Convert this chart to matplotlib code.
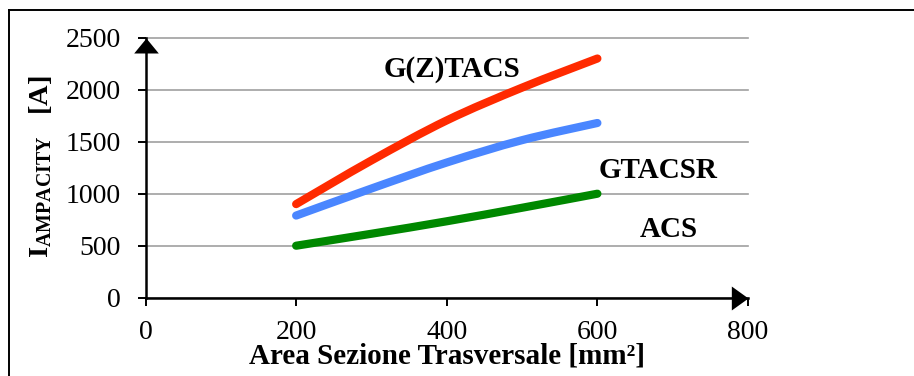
import matplotlib
matplotlib.use("Agg")
import matplotlib.pyplot as plt
from matplotlib.lines import Line2D
from matplotlib.path import Path
from matplotlib.patches import PathPatch

# Conductor cross-section [mm^2] and ampacity [A] per conductor type
area = [200, 300, 400, 500, 600]
gztacs = [900, 1320, 1705, 2020, 2300]
gtacsr = [790, 1050, 1300, 1515, 1680]
acs = [500, 615, 735, 865, 1000]

series_names = ["G(Z)TACS", "GTACSR", "ACS"]
x_ticks = [0, 200, 400, 600, 800]
y_ticks = [0, 500, 1000, 1500, 2000, 2500]

plt.rcParams["font.family"] = "Liberation Serif"
plt.rcParams["mathtext.fontset"] = "custom"
plt.rcParams["mathtext.rm"] = "Liberation Serif"
plt.rcParams["mathtext.bf"] = "Liberation Serif:bold"
plt.rcParams["mathtext.it"] = "Liberation Serif:italic"


def smooth_path(xs, ys):
    """Cubic Bezier path through the points (Catmull-Rom tangents)."""
    pts = list(zip(xs, ys))
    n = len(pts)
    verts = [pts[0]]
    codes = [Path.MOVETO]
    for i in range(n - 1):
        p0 = pts[max(i - 1, 0)]
        p1 = pts[i]
        p2 = pts[i + 1]
        p3 = pts[min(i + 2, n - 1)]
        c1 = (p1[0] + (p2[0] - p0[0]) / 6, p1[1] + (p2[1] - p0[1]) / 6)
        c2 = (p2[0] - (p3[0] - p1[0]) / 6, p2[1] - (p3[1] - p1[1]) / 6)
        verts += [c1, c2, p2]
        codes += [Path.CURVE4] * 3
    return Path(verts, codes)


fig = plt.figure(figsize=(9.14, 3.76), dpi=100)
ax = fig.add_axes([0.1592, 0.2082, 0.6592, 0.6915])

ax.set_xlim(x_ticks[0], x_ticks[-1])
ax.set_ylim(y_ticks[0], y_ticks[-1])
ax.set_xticks(x_ticks)
ax.set_yticks(y_ticks)

ax.grid(axis="y", color="#a0a0a0", lw=1.2)
ax.set_axisbelow(True)
for gl in ax.yaxis.get_gridlines():
    gl.set_clip_on(False)

for s in ("top", "right"):
    ax.spines[s].set_visible(False)
for s in ("left", "bottom"):
    ax.spines[s].set_linewidth(1.8)
    ax.spines[s].set_color("black")

ax.tick_params(axis="both", direction="out", length=6, width=1.4,
               labelsize=20, colors="black")
ax.tick_params(axis="y", pad=12)
ax.tick_params(axis="x", pad=10)

# Smoothed curves
for ys, col in ((gztacs, "#ff2a00"), (gtacsr, "#4a86ff"), (acs, "#008800")):
    ax.add_patch(PathPatch(smooth_path(area, ys), facecolor="none",
                           edgecolor=col, lw=5.9, capstyle="round",
                           joinstyle="round", zorder=3))

# Series names
txt_kw = dict(fontsize=21, fontweight="bold", ha="center", va="center")
ax.text(407, 2195, series_names[0], **txt_kw)
ax.text(680, 1228, series_names[1], **txt_kw)
ax.text(695, 660, series_names[2], **txt_kw)

# Arrow heads at the ends of the axes
ax.plot([0], [1], transform=ax.transAxes, linestyle="none",
        marker=[(0, 0), (-12.3, -15), (12.3, -15)], ms=21.6,
        color="black", mew=0, clip_on=False, zorder=5)
ax.plot([1], [0], transform=ax.transAxes, linestyle="none",
        marker=[(0, 0), (-16.7, 12), (-16.7, -12)], ms=24,
        color="black", mew=0, clip_on=False, zorder=5)

# Axis titles
ax.set_xlabel("Area Sezione Trasversale [mm²]", fontsize=21,
              fontweight="bold", va="baseline")
ax.xaxis.set_label_coords(0.5, -0.254)
ax.set_ylabel(r"$\mathbf{I}_{\mathbf{AMPACITY}}$   $\mathbf{[A]}$",
              fontsize=20.5, va="center", ha="center")
ax.yaxis.set_label_coords(-0.175, 0.505)

# Outer frame
fw = 1.4
fx = 8.5 / 914
fy = 1 - 10 / 376
fig.add_artist(Line2D([fx, fx], [-0.05, fy], color="black", lw=fw,
                      transform=fig.transFigure))
fig.add_artist(Line2D([fx, 1.05], [fy, fy], color="black", lw=fw,
                      transform=fig.transFigure))

fig.savefig("out.png", dpi=100)
